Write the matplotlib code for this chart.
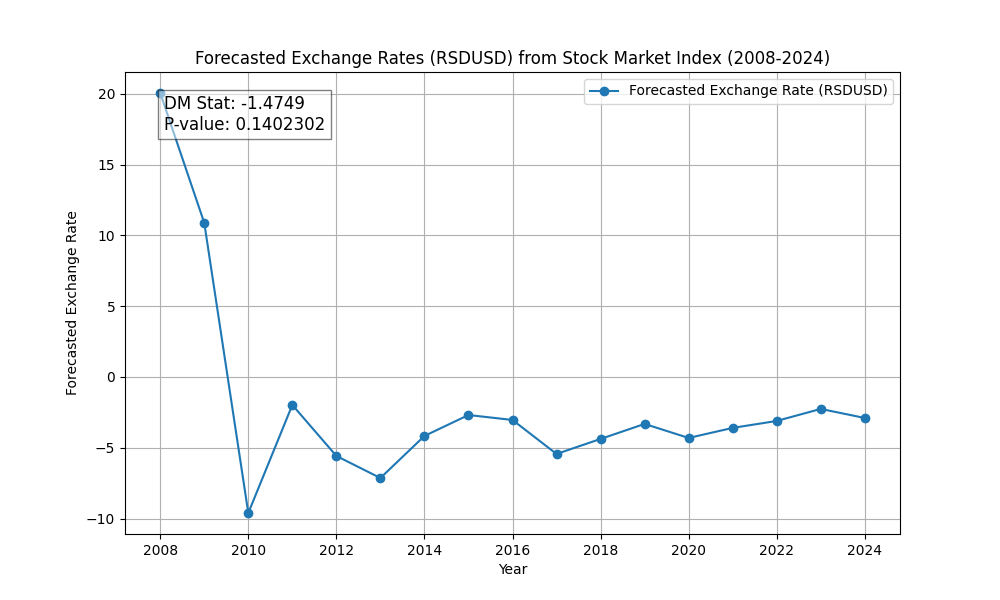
import matplotlib
matplotlib.use("Agg")
import matplotlib.pyplot as plt

# forecasted values
years = [2008, 2009, 2010, 2011, 2012, 2013, 2014, 2015, 2016,
         2017, 2018, 2019, 2020, 2021, 2022, 2023, 2024]
forecast = [20.05, 10.88, -9.61, -1.98, -5.58, -7.14, -4.17, -2.69, -3.04,
            -5.44, -4.38, -3.32, -4.31, -3.60, -3.11, -2.26, -2.90]

dm_stat = -1.4749
p_value = 0.1402302

fig, ax = plt.subplots(figsize=(10, 6))
ax.plot(years, forecast, marker='o', label='Forecasted Exchange Rate (RSDUSD)')
ax.set_title('Forecasted Exchange Rates (RSDUSD) from Stock Market Index (2008-2024)')
ax.set_xlabel('Year')
ax.set_ylabel('Forecasted Exchange Rate')
ax.set_xticks(range(2008, 2025, 2))
ax.grid(True)
ax.legend()

# DM test results in the corner
ax.text(0.05, 0.95, f'DM Stat: {dm_stat}\nP-value: {p_value}', transform=ax.transAxes,
        fontsize=12, verticalalignment='top', bbox=dict(facecolor='white', alpha=0.5))

plt.savefig('out.png')
